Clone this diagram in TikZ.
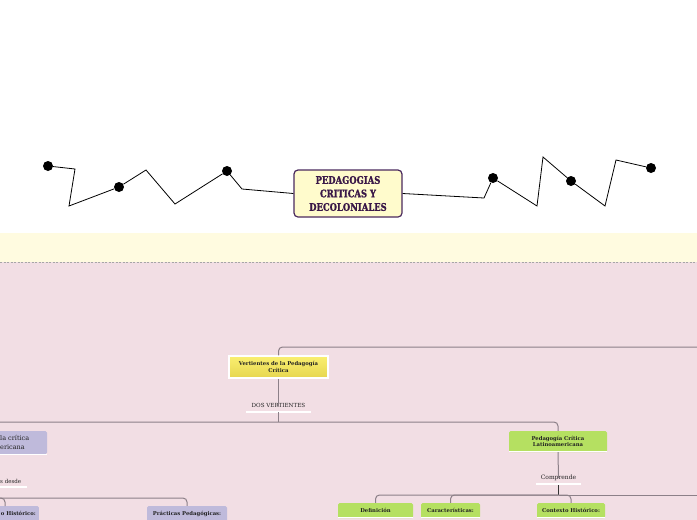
\documentclass[tikz,border=0pt]{standalone}
\usepackage{fontspec}
\setmainfont{DejaVu Serif}
\newfontfamily\titlefont[FakeStretch=0.80,FakeBold=1.2]{DejaVu Serif}
\definecolor{bandyellow}{HTML}{FFFBE0}
\definecolor{pinkbg}{HTML}{F2DEE4}
\definecolor{titlefill}{HTML}{FFFBCC}
\definecolor{titledraw}{HTML}{4A2A5E}
\definecolor{titletext}{HTML}{3A1848}
\definecolor{conncol}{HTML}{8C8088}
\definecolor{greenfill}{HTML}{B5E061}
\definecolor{purplefill}{HTML}{BFBADB}
\definecolor{ytop}{HTML}{FAEF70}
\definecolor{ybot}{HTML}{E6D64F}
\definecolor{txt}{HTML}{222222}
\begin{document}
\begin{tikzpicture}[x=1pt,y=-1pt,
  dotnode/.style={circle,fill=black,minimum size=10pt,inner sep=0pt},
  zig/.style={draw=black,line width=0.8pt},
  titlebox/.style={draw=titledraw,line width=1.2pt,fill=titlefill,rounded corners=4pt,
     minimum width=108pt,minimum height=47pt,inner sep=0pt,align=center,
     font=\titlefont\bfseries\fontsize{10.5}{13.5}\selectfont,text=titletext},
  conn/.style={draw=conncol,line width=1pt,rounded corners=4pt},
  darkconn/.style={draw=black!80,line width=1.4pt},
  smallfont/.style={font=\bfseries\fontsize{5.3}{6.8}\selectfont,text=txt},
  ybox/.style={smallfont,draw=white,line width=1.5pt,top color=ytop,bottom color=ybot,
     minimum width=99pt,minimum height=22pt,inner sep=0pt,align=center},
  gbox/.style={smallfont,fill=greenfill,rounded corners=1.5pt,inner sep=0pt,align=center},
  pbox/.style={smallfont,fill=purplefill,rounded corners=1.5pt,inner sep=0pt,align=center},
  lbl/.style={font=\fontsize{5.5}{6.5}\selectfont,text=txt,inner sep=0pt},
  uline/.style={draw=white,line width=1.5pt}
]
\useasboundingbox (0,0) rectangle (697,520);
\fill[white] (0,0) rectangle (697,233);
\fill[bandyellow] (0,233) rectangle (697,262);
\fill[pinkbg] (0,262) rectangle (697,520);
\draw[draw=gray!70,line width=0.6pt,dash pattern=on 2pt off 1.5pt] (0,262) -- (697,262);

% title
\node[titlebox] (title) at (348,193.5) {PEDAGOGIAS\\CRITICAS Y\\DECOLONIALES};

% left zigzag
\node[dotnode] (d1) at (48,166) {};
\node[dotnode] (d2) at (119,187) {};
\node[dotnode] (d3) at (227,171) {};
\coordinate (a1) at (75,169);
\coordinate (a2) at (69,206);
\coordinate (a3) at (146,170);
\coordinate (a4) at (175,204);
\coordinate (a5) at (242,189);
\draw[zig] (d1) -- (a1) -- (a2) -- (d2) -- (a3) -- (a4) -- (d3) -- (a5) -- (title.west);

% right zigzag
\node[dotnode] (e1) at (493,178) {};
\node[dotnode] (e2) at (571,181) {};
\node[dotnode] (e3) at (651,168) {};
\coordinate (b1) at (484,198);
\coordinate (b2) at (537,206);
\coordinate (b3) at (543,157);
\coordinate (b4) at (605,206);
\coordinate (b5) at (616,160);
\draw[zig] (title.east) -- (b1) -- (e1) -- (b2) -- (b3) -- (e2) -- (b4) -- (b5) -- (e3);

% Vertientes
\node[ybox] (vert) at (278.5,367) {Vertientes de la Pedagogía\\Crítica};
\coordinate (topR) at (710,347);
\draw[conn] (vert.north) |- (topR);

\node[lbl,font=\fontsize{5.6}{6.5}\selectfont] (dos) at (278.5,405) {DOS VERTIENTES};
\draw[uline] (246,412) -- (311,412);
\coordinate (dosU) at (278.5,412);
\draw[conn] (vert.south) -- ([yshift=-3pt]dos.north);
\coordinate (hl) at (-10,422);
\draw[conn] (dosU) -- (dosU |- hl);

% Green main
\node[gbox,minimum width=98pt,minimum height=21pt] (pcl) at (558,441.5) {Pedagogía Crítica\\Latinoamericana};
\draw[uline,line width=1pt] ([yshift=0.7pt]pcl.south west) -- ([yshift=0.7pt]pcl.south east);
\draw[conn] (hl) -- (hl -| pcl) -- (pcl.north);

% left purple node (cut off)
\path[fill=purplefill,rounded corners=1.5pt] (-60,431) rectangle (47,454);
\draw[uline,line width=1pt] (-60,454.5) -- (47,454.5);
\node[anchor=west,align=left,inner sep=0pt,font=\fontsize{6.5}{9}\selectfont,text=txt] (pna) at (0,442.5) {la crítica\\ericana};

\node[lbl,anchor=west] (desde) at (0,481) {s desde};
\draw[uline] (0,487) -- (27,487);

\coordinate (jl) at (-20,498);
\node[pbox,minimum width=80pt,minimum height=16pt] (prac) at (187,514) {Prácticas Pedagógicas:};
\node[pbox,minimum width=80pt,minimum height=16pt,anchor=east] (oh) at (39,514) {};
\node[smallfont,anchor=east,inner sep=0pt] (ohtxt) at (36,513) {o Histórico:};
\coordinate (ohstem) at (5,506);
\draw[conn] (ohstem) |- (jl);
\draw[conn] (prac.north) |- (jl);

% Comprende
\node[lbl,font=\fontsize{6}{7}\selectfont] (comp) at (558.5,478) {Comprende};
\draw[uline] (536,484) -- (581,484);
\draw[conn] (pcl.south) -- ([yshift=-3pt]comp.north);
\coordinate (jr) at (558.5,495);
\coordinate (hr) at (710,495);
\draw[darkconn] (558.5,485) -- (jr);

\node[gbox,minimum width=75pt,minimum height=15pt] (defi) at (375.5,510.5) {Definición};
\node[gbox,minimum width=59pt,minimum height=15pt] (car) at (450.5,510.5) {Características:};
\node[gbox,minimum width=68pt,minimum height=15pt] (ctx) at (571,510.5) {Contexto Histórico:};
\foreach \n in {defi,car,ctx}{\draw[uline,line width=1pt] ([yshift=0.7pt]\n.south west) -- ([yshift=0.7pt]\n.south east);}
\draw[conn] (defi.north) |- (jr);
\draw[conn] (car.north) |- (jr);
\draw[conn] (ctx.north) |- (jr);
\draw[conn] (jr) -- (hr);
\end{tikzpicture}
\end{document}
